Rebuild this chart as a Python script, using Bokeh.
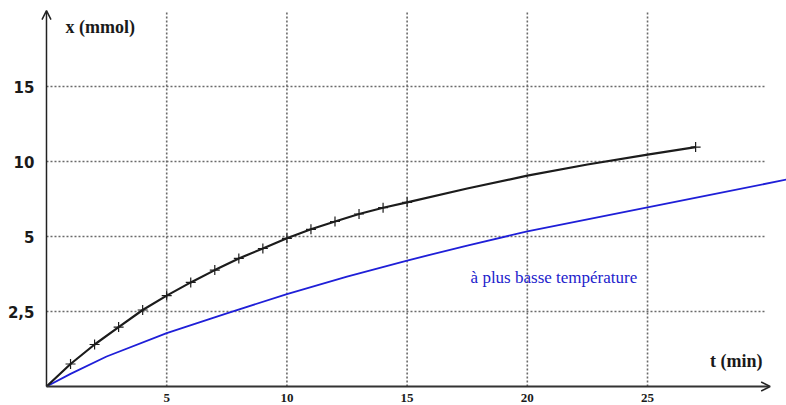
from bokeh.plotting import figure
from bokeh.models import Range1d, Arrow, OpenHead, Label
from bokeh.embed import file_html
from bokeh.resources import INLINE

# --- data (y in plot units; labels as printed) ---
t_black = [0, 1, 2, 3, 4, 5, 6, 7, 8, 9, 10, 11, 12, 13, 14, 15, 17.5, 20, 22.5, 25, 27]
x_black = [0, 0.75, 1.4, 1.98, 2.55, 3.03, 3.47, 3.88, 4.27, 4.6, 4.94, 5.24, 5.5, 5.75,
           5.96, 6.14, 6.6, 7.03, 7.4, 7.73, 7.98]
t_marked = [1, 2, 3, 4, 5, 6, 7, 8, 9, 10, 11, 12, 13, 14, 15, 27]

t_blue = [0, 1, 2.5, 5, 7.5, 10, 12.5, 15, 17.5, 20, 22.5, 25, 27.5, 30.8]
x_blue = [0, 0.42, 1.0, 1.78, 2.44, 3.08, 3.66, 4.2, 4.7, 5.17, 5.57, 5.97, 6.37, 6.9]

x_ticks = [5, 10, 15, 20, 25]
y_ticks = [2.5, 5, 7.5, 10]
y_tick_labels = ["2,5", "5", "10", "15"]

x_axis_end = 30.1
y_axis_end = 12.53
h_grid_end = 29.9

mk_t = [t for t in t_black if t in t_marked]
mk_x = [x for t, x in zip(t_black, x_black) if t in t_marked]

p = figure(width=786, height=405, output_backend="svg", toolbar_location=None,
           x_range=Range1d(-1.913, 30.78), y_range=Range1d(-0.633, 12.867),
           min_border=0)
p.outline_line_color = None
p.xgrid.grid_line_color = None
p.ygrid.grid_line_color = None

for ax in (p.xaxis[0], p.yaxis[0]):
    ax.fixed_location = 0
    ax.axis_line_color = None
    ax.major_tick_line_color = None
    ax.minor_tick_line_color = None
    ax.major_label_text_color = "#1a1a1a"

p.xaxis.ticker = x_ticks
p.xaxis.major_label_text_font = "Liberation Serif"
p.xaxis.major_label_text_font_style = "bold"
p.xaxis.major_label_text_font_size = "13px"
p.xaxis.major_label_standoff = 1

p.yaxis.ticker = y_ticks
p.yaxis.major_label_overrides = {k: v for k, v in zip(y_ticks, y_tick_labels)}
p.yaxis.major_label_text_font = "DejaVu Sans"
p.yaxis.major_label_text_font_style = "bold"
p.yaxis.major_label_text_font_size = "15px"
p.yaxis.major_label_standoff = 6

# dotted grid
grid_col = "#6a6a6a"
p.segment(x0=x_ticks, y0=[0] * len(x_ticks), x1=x_ticks, y1=[y_axis_end] * len(x_ticks),
          line_color=grid_col, line_width=1.6, line_dash="2 2")
p.segment(x0=[0] * len(y_ticks), y0=y_ticks, x1=[h_grid_end] * len(y_ticks), y1=y_ticks,
          line_color=grid_col, line_width=1.6, line_dash="2 2")

# axes arrows
p.add_layout(Arrow(end=OpenHead(size=9, line_width=1.5, line_color="#222222"),
                   x_start=0, y_start=0, x_end=0, y_end=y_axis_end,
                   line_width=1.5, line_color="#222222"))
p.add_layout(Arrow(end=OpenHead(size=9, line_width=1.5, line_color="#222222"),
                   x_start=0, y_start=0, x_end=x_axis_end, y_end=0,
                   line_width=2, line_color="#333333"))

# curves
p.line(t_blue, x_blue, line_color="#1f1fd8", line_width=1.8)
p.line(t_black, x_black, line_color="#1c1c1c", line_width=2.2)
p.scatter(mk_t, mk_x, marker="cross", size=10, line_color="#1c1c1c", line_width=1.2)

# texts
p.add_layout(Label(x=0.79, y=12.0, text="x (mmol)", text_font="Liberation Serif",
                   text_font_style="bold", text_font_size="18px", text_baseline="middle",
                   text_color="#1a1a1a"))
p.add_layout(Label(x=27.6, y=0.85, text="t (min)", text_font="Liberation Serif",
                   text_font_style="bold", text_font_size="18px", text_baseline="middle",
                   text_color="#1a1a1a"))
p.add_layout(Label(x=17.64, y=3.63, text="à plus basse température", text_font="Liberation Serif",
                   text_font_size="17px", text_baseline="middle", text_color="#2222cc"))

open("out.html", "w").write(file_html(p, INLINE))
